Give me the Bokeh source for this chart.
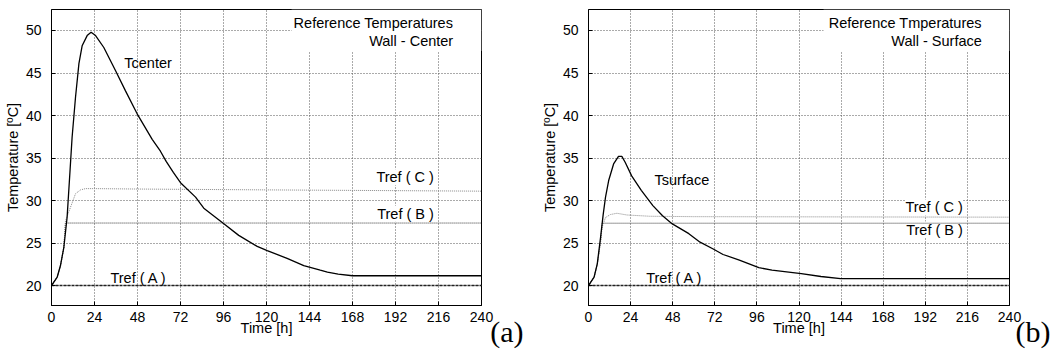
from bokeh.plotting import figure
from bokeh.models import Range1d, SingleIntervalTicker, Label, BoxAnnotation
from bokeh.layouts import row
from bokeh.embed import file_html
from bokeh.resources import INLINE

# ---------------- data: panel (a) wall - center ----------------
center_time = [0, 3.2, 5, 6.9, 8.7, 10, 11.5, 13.4, 15.3, 17.1, 19.9, 22.1, 24.6, 29.2,
               35.7, 41.3, 47.8, 56.2, 60.8, 64, 68, 72, 80.4, 85, 96.2, 104.5, 114.8,
               120.4, 131.5, 140.8, 150, 154, 160, 168, 240]
center_temp = [20, 21.0, 22.35, 24.5, 28.0, 32.35, 37.45, 42.15, 46.1, 48.2, 49.4, 49.8,
               49.4, 48.0, 45.3, 42.9, 40.2, 37.2, 35.8, 34.6, 33.3, 32.1, 30.4, 29.1,
               27.26, 25.9, 24.6, 24.1, 23.2, 22.35, 21.8, 21.57, 21.35, 21.15, 21.15]
center_trefC_time = [0, 3.2, 5, 6.9, 7.8, 10.6, 13.4, 16.2, 19, 24, 48, 120, 240]
center_trefC_temp = [20, 21.0, 22.3, 24.5, 27.6, 29.2, 30.8, 31.25, 31.4, 31.4, 31.35, 31.25, 31.1]
center_trefB_time = [0, 3.2, 5, 6.9, 7.8, 240]
center_trefB_temp = [20, 21.0, 22.3, 24.5, 27.35, 27.35]

# ---------------- data: panel (b) wall - surface ----------------
surface_time = [0, 3.2, 5, 6.9, 8.4, 9.7, 11.5, 14.3, 17.1, 19, 20.9, 24.6, 30.1, 36.7,
                42.2, 47.8, 57.2, 63.6, 71.1, 76.7, 86, 97.1, 104.6, 121.3, 132.5, 143.7, 240]
surface_temp = [20, 21.0, 22.55, 25.7, 28.4, 30.4, 32.35, 34.3, 35.2, 35.2, 34.5, 32.9,
                31.2, 29.4, 28.2, 27.25, 26.1, 25.1, 24.3, 23.65, 23.0, 22.1, 21.8, 21.4,
                21.06, 20.8, 20.8]
surface_trefC_time = [0, 3.2, 5, 6.9, 7.8, 9.7, 12.5, 16.2, 21.8, 34.8, 60, 240]
surface_trefC_temp = [20, 21.0, 22.5, 25.2, 26.9, 28.0, 28.35, 28.5, 28.3, 28.15, 28.1, 28.04]
surface_trefB_time = [0, 3.2, 5, 6.9, 7.8, 240]
surface_trefB_temp = [20, 21.0, 22.5, 25.2, 27.33, 27.33]

trefA_time = [0, 240]
trefA_temp = [20, 20]

x_range = (0, 240)
y_range = (17.65, 52.47)
x_tick_step = 24
y_tick_step = 5

FONT = "Liberation Sans"
HEIGHT = 355


def panel(width, left, right, temp_time, temp_vals, c_time, c_vals, b_time, b_vals,
          curve_name, curve_pos, title_lines, c_pos, b_pos, tag, tag_offset):
    p = figure(width=width, height=HEIGHT, output_backend="svg", toolbar_location=None,
               x_range=Range1d(*x_range), y_range=Range1d(*y_range),
               min_border_left=left, min_border_right=right,
               min_border_top=9, min_border_bottom=HEIGHT - 9 - 296,
               title=tag, title_location="below")
    p.background_fill_color = "white"
    p.border_fill_color = "white"
    p.outline_line_color = "black"
    p.outline_line_width = 1

    p.title.align = "right"
    p.title.vertical_align = "top"
    p.title.offset = tag_offset
    p.title.standoff = -47
    p.title.text_font = "Liberation Serif"
    p.title.text_font_size = "30px"
    p.title.text_font_style = "normal"
    p.title.text_color = "black"

    for ax in p.xaxis:
        ax.ticker = SingleIntervalTicker(interval=x_tick_step)
        ax.axis_label = "Time [h]"
        ax.major_label_standoff = 2
        ax.axis_label_standoff = -5
    for ax in p.yaxis:
        ax.ticker = SingleIntervalTicker(interval=y_tick_step)
        ax.axis_label = "Temperature [ºC]"
        ax.major_label_standoff = 6
        ax.axis_label_standoff = 2
    for ax in p.xaxis + p.yaxis:
        ax.major_tick_in = 4
        ax.major_tick_out = 0
        ax.minor_tick_line_color = None
        ax.axis_line_color = "black"
        ax.major_tick_line_color = "black"
        ax.major_label_text_font = FONT
        ax.major_label_text_font_size = "14px"
        ax.major_label_text_color = "black"
        ax.axis_label_text_font = FONT
        ax.axis_label_text_font_size = "14.5px"
        ax.axis_label_text_font_style = "normal"
        ax.axis_label_text_color = "black"

    p.xgrid.grid_line_color = "#555555"
    p.xgrid.grid_line_dash = "1 2"
    p.ygrid.grid_line_color = "#555555"
    p.ygrid.grid_line_dash = "1 2"

    # white box behind the title text in the upper right
    p.add_layout(BoxAnnotation(left=134, bottom=47.6, fill_color="white", fill_alpha=1,
                               line_alpha=0, level="underlay"))

    p.line(trefA_time, trefA_temp, line_color="#222222", line_width=1.5, line_dash="3 1")
    p.line(b_time, b_vals, line_color="#333333", line_width=1, line_dash="1 1")
    p.line(c_time, c_vals, line_color="#888888", line_width=1, line_dash="1 1")
    p.line(temp_time, temp_vals, line_color="black", line_width=1.3)

    def lab(x, y, text, align, bg=False, level="annotation"):
        kw = {}
        if bg:
            kw = dict(background_fill_color="white", background_fill_alpha=1)
        p.add_layout(Label(x=x, y=y, text=text, text_align=align, text_baseline="middle",
                           text_font=FONT, text_font_size="14.5px", text_color="black",
                           level=level, **kw))

    lab(curve_pos[0], curve_pos[1], curve_name, "center")
    lab(224.2, 50.9, title_lines[0], "right")
    lab(224.2, 48.8, title_lines[1], "right")
    lab(213.4, c_pos, "Tref ( C )", "right", bg=True, level="underlay")
    lab(213.4, b_pos, "Tref ( B )", "right", bg=True, level="underlay")
    lab(32.9, 20.9, "Tref ( A )", "left")
    return p


pa = panel(538, 51, 57, center_time, center_temp, center_trefC_time, center_trefC_temp,
           center_trefB_time, center_trefB_temp, "Tcenter", (53.9, 46.2),
           ("Reference Temperatures", "Wall - Center"), 32.74, 28.43, "(a)", -42)
pb = panel(518, 41, 468 - 430 - 41 + 50, surface_time, surface_temp, surface_trefC_time,
           surface_trefC_temp, surface_trefB_time, surface_trefB_temp, "Tsurface",
           (53.2, 32.47), ("Reference Tmperatures", "Wall - Surface"), 29.18, 26.59,
           "(b)", -41)

layout = row(pa, pb)
open("out.html", "w").write(file_html(layout, INLINE))
